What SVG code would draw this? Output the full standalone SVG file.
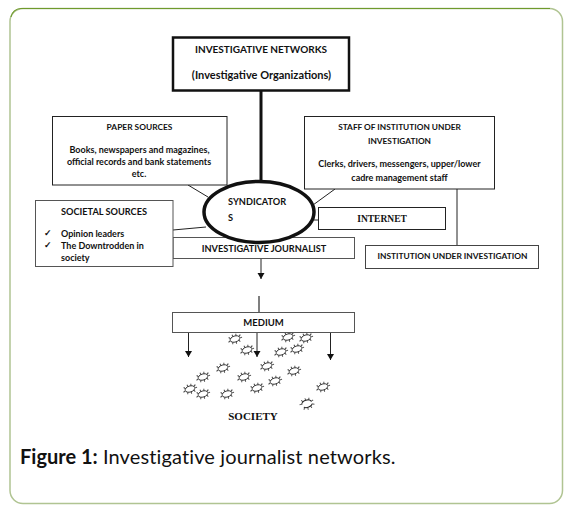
<svg xmlns="http://www.w3.org/2000/svg" width="576" height="510" viewBox="0 0 576 510">
<style>
.b{fill:#fff;stroke:#222;stroke-width:1}
.c{fill:none;stroke:#222;stroke-width:1}
.t{font-family:Lato,"Liberation Sans",sans-serif;font-weight:700;font-size:9px;fill:#111;text-anchor:middle}
.l{text-anchor:start}
.s{font-family:"Liberation Serif",serif;font-weight:700;fill:#111;text-anchor:middle}
.r{fill:#fff;stroke:#333;stroke-width:.9}
.k{fill:none;stroke:#333;stroke-width:2.600;stroke-dasharray:.8 2.700}
</style>
<defs>
<marker id="a" markerUnits="userSpaceOnUse" markerWidth="8" markerHeight="8" refX="6" refY="3.500" orient="auto"><path d="M0 0L6 3.500L0 7z" fill="#111"/></marker>
<g id="sp" transform="rotate(-18)"><ellipse class="k" rx="6" ry="3.800"/><ellipse class="r" rx="5" ry="3"/></g>
<g id="op" transform="rotate(-18)"><path class="c" d="M-5 -1A5 3 0 0 1 5 -1M5 1.500A5 3 0 0 1 -4 2"/><path class="k" d="M-6 -1A6 3.800 0 0 1 6 -1M6 1.500A6 3.800 0 0 1 -5 2.500"/></g>
</defs>
<rect x="0" y="0" width="576" height="510" fill="#fff"/>
<g id="frame"><rect x="10" y="8.500" width="552.500" height="495" rx="13" fill="#fff" stroke="#b0c492" stroke-width="1.500"/>
<path d="M11 17A10 10 0 0 1 21 8.500H550" fill="none" stroke="#6f9a2c" stroke-width="1.200"/></g>
<g id="society">
<use href="#sp" x="235" y="339"/><use href="#sp" x="247" y="350"/><use href="#sp" x="288" y="337"/><use href="#sp" x="306" y="338"/><use href="#sp" x="297" y="349"/><use href="#sp" x="281" y="352"/><use href="#sp" x="267" y="366"/><use href="#sp" x="223" y="368"/><use href="#sp" x="203" y="377"/><use href="#sp" x="294" y="371"/><use href="#sp" x="244" y="377"/><use href="#sp" x="275" y="381"/><use href="#sp" x="257" y="388"/><use href="#sp" x="190" y="389"/><use href="#sp" x="203" y="394"/><use href="#sp" x="227" y="394"/><use href="#sp" x="323" y="387"/><use href="#op" x="307" y="404"/>
<text class="s" x="253" y="420" font-size="11">SOCIETY</text></g>
<g id="connectors">
<line class="c" x1="261" y1="91" x2="261" y2="182" style="stroke-width:3;stroke:#111"/>
<line class="c" x1="188" y1="185" x2="208" y2="197"/>
<line class="c" x1="173" y1="230" x2="206" y2="227"/>
<line class="c" x1="335" y1="189" x2="313" y2="205"/>
<line class="c" x1="314" y1="220" x2="318" y2="220"/>
<line class="c" x1="457" y1="189" x2="457" y2="245"/>
<line class="c" x1="261" y1="243" x2="261" y2="279" marker-end="url(#a)"/>
<line class="c" x1="259" y1="296" x2="259" y2="312" style="stroke:#555;stroke-width:1.500"/>
<line class="c" x1="188.500" y1="332" x2="188.500" y2="357" marker-end="url(#a)"/>
<line class="c" x1="257" y1="332" x2="257" y2="357" marker-end="url(#a)"/>
<line class="c" x1="330.500" y1="332" x2="330.500" y2="360" marker-end="url(#a)"/>
</g>
<g id="journalist"><rect class="b" x="173" y="237.500" width="181.500" height="21" style="stroke:#555"/><text class="t" x="264" y="252" style="font-size:9.200px">INVESTIGATIVE JOURNALIST</text></g>
<g id="networks"><rect class="b" x="173" y="37.500" width="176" height="53" style="stroke-width:2.500;stroke:#111"/>
<text class="t" x="261" y="53" style="font-size:10px">INVESTIGATIVE NETWORKS</text>
<text class="t" x="261.500" y="79" style="font-size:11px">(Investigative Organizations)</text></g>
<g id="paper"><rect class="b" x="52.500" y="116.500" width="174.500" height="68.500"/>
<text class="t" x="139.500" y="130" style="font-size:8.400px">PAPER SOURCES</text>
<text class="t" x="139.500" y="153">Books, newspapers and magazines,</text>
<text class="t" x="139" y="165">official records and bank statements</text>
<text class="t" x="139" y="177">etc.</text></g>
<g id="societal"><rect class="b" x="35.500" y="200.500" width="137.500" height="66" style="stroke:#555"/>
<text class="t" x="104" y="215" style="font-size:9.200px">SOCIETAL SOURCES</text>
<text class="t l" x="44" y="236">✓</text><text class="t l" x="61" y="237">Opinion leaders</text>
<text class="t l" x="44" y="248">✓</text><text class="t l" x="61" y="249">The Downtrodden in</text>
<text class="t l" x="61" y="261">society</text></g>
<g id="staff"><rect class="b" x="304.500" y="116.500" width="190" height="72.500"/>
<text class="t" x="399.500" y="130" style="font-size:8.300px">STAFF OF INSTITUTION UNDER</text>
<text class="t" x="399.500" y="144" style="font-size:8.300px">INVESTIGATION</text>
<text class="t" x="399.500" y="167">Clerks, drivers, messengers, upper/lower</text>
<text class="t" x="399.500" y="181">cadre management staff</text></g>
<g id="syndicators"><ellipse cx="259" cy="212" rx="55" ry="30.500" fill="#fff" stroke="#111" stroke-width="3.500"/>
<text class="t l" x="228" y="205" style="font-size:9.200px">SYNDICATOR</text>
<text class="t l" x="228" y="221" style="font-size:9.200px">S</text></g>
<g id="internet"><rect class="b" x="318.500" y="207.500" width="127" height="22"/><text class="s" x="382" y="222" font-size="9.500">INTERNET</text></g>
<g id="institution"><rect class="b" x="365.500" y="245.500" width="173" height="23" style="stroke:#444"/><text class="t" x="452.500" y="259" style="font-size:8.400px">INSTITUTION UNDER INVESTIGATION</text></g>
<g id="medium"><rect class="b" x="172.500" y="312.500" width="182" height="20" style="stroke:#555"/><text class="t" x="263.500" y="326" style="font-size:9.500px">MEDIUM</text></g>
<text id="caption" x="20" y="464" font-family="Lato,'Liberation Sans',sans-serif" font-size="20" fill="#111"><tspan font-weight="700">Figure 1:</tspan><tspan letter-spacing=".13"> Investigative journalist networks.</tspan></text>
</svg>
